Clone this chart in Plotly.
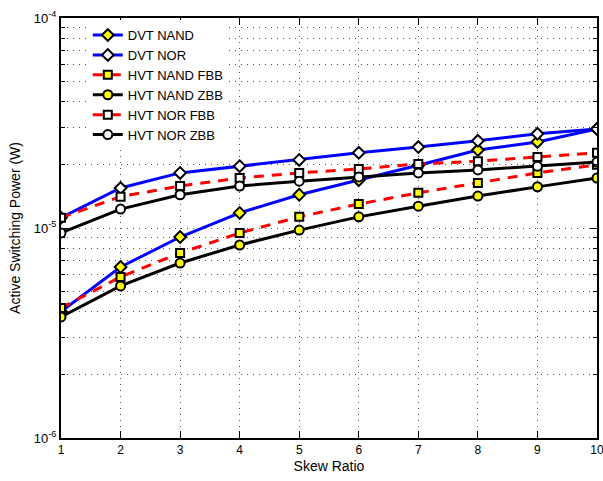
import plotly.graph_objects as go

skew = [1, 2, 3, 4, 5, 6, 7, 8, 9, 10]
dvt_nand = [4.0e-6, 6.52e-6, 9.06e-6, 1.18e-5, 1.44e-5, 1.69e-5, 1.99e-5, 2.35e-5, 2.57e-5, 2.96e-5]
dvt_nor = [1.12e-5, 1.55e-5, 1.83e-5, 1.97e-5, 2.11e-5, 2.28e-5, 2.43e-5, 2.60e-5, 2.81e-5, 2.96e-5]
hvt_nand_fbb = [4.16e-6, 5.85e-6, 7.6e-6, 9.47e-6, 1.13e-5, 1.30e-5, 1.47e-5, 1.64e-5, 1.83e-5, 2.0e-5]
hvt_nand_zbb = [3.77e-6, 5.3e-6, 6.81e-6, 8.3e-6, 9.77e-6, 1.13e-5, 1.27e-5, 1.42e-5, 1.57e-5, 1.73e-5]
hvt_nor_fbb = [1.12e-5, 1.41e-5, 1.585e-5, 1.73e-5, 1.83e-5, 1.91e-5, 2.02e-5, 2.08e-5, 2.18e-5, 2.28e-5]
hvt_nor_zbb = [9.47e-6, 1.23e-5, 1.44e-5, 1.585e-5, 1.67e-5, 1.75e-5, 1.83e-5, 1.89e-5, 1.97e-5, 2.06e-5]

ytick_vals = [1e-6, 1e-5, 1e-4]
ytick_text = ["10<sup>-6</sup>", "10<sup>-5</sup>", "10<sup>-4</sup>"]
yminor_vals = [m * 1e-6 for m in range(2, 10)] + [m * 1e-5 for m in range(2, 10)]

series = [
    ("DVT NAND", dvt_nand, "blue", "solid", "diamond", "yellow", 9),
    ("DVT NOR", dvt_nor, "blue", "solid", "diamond", "white", 9),
    ("HVT NAND FBB", hvt_nand_fbb, "red", "dash", "square", "yellow", 8),
    ("HVT NAND ZBB", hvt_nand_zbb, "black", "solid", "circle", "yellow", 9),
    ("HVT NOR FBB", hvt_nor_fbb, "red", "dash", "square", "white", 8),
    ("HVT NOR ZBB", hvt_nor_zbb, "black", "solid", "circle", "white", 9),
]

fig = go.Figure()
for name, ys, lc, dash, sym, fc, ms in series:
    fig.add_trace(go.Scatter(
        x=skew, y=ys, name=name, mode="lines+markers",
        line=dict(color=lc, width=3, dash="10px,8px" if dash == "dash" else "solid"),
        marker=dict(symbol=sym, size=ms, color=fc, line=dict(color="black", width=2)),
    ))

font = "Liberation Sans, Arial, Helvetica, sans-serif"
grid = dict(showgrid=True, gridcolor="#555555", griddash="1px,5px", gridwidth=1)
fig.update_layout(
    width=603, height=481,
    margin=dict(l=61, r=6, t=18, b=43),
    paper_bgcolor="white", plot_bgcolor="white",
    font=dict(family=font, size=13, color="black"),
    showlegend=True,
    legend=dict(
        x=0.05, y=0.995, xanchor="left", yanchor="top",
        bgcolor="white", borderwidth=0,
        font=dict(size=13, family=font), tracegroupgap=0,
    ),
    xaxis=dict(
        range=[1, 10], dtick=1, tick0=1, automargin=False, ticklabeloverflow="allow",
        showline=True, linecolor="black", linewidth=2, mirror="allticks",
        ticks="inside", ticklen=7, tickcolor="black", tickwidth=1,
        zeroline=False, **grid,
        title=dict(text="Skew Ratio", font=dict(size=14), standoff=5),
        tickfont=dict(size=12),
    ),
    yaxis=dict(
        type="log", range=[-6, -4], automargin=False, ticklabeloverflow="allow",
        tickvals=ytick_vals, ticktext=ytick_text,
        showline=True, linecolor="black", linewidth=2, mirror="allticks",
        ticks="inside", ticklen=7, tickcolor="black", tickwidth=1,
        zeroline=False, **grid,
        minor=dict(tickvals=yminor_vals, ticks="inside", ticklen=4, tickcolor="black", **grid),
        title=dict(text="Active Switching Power (W)", font=dict(size=14), standoff=10),
        tickfont=dict(size=13),
    ),
)

fig.write_html("out.html")
